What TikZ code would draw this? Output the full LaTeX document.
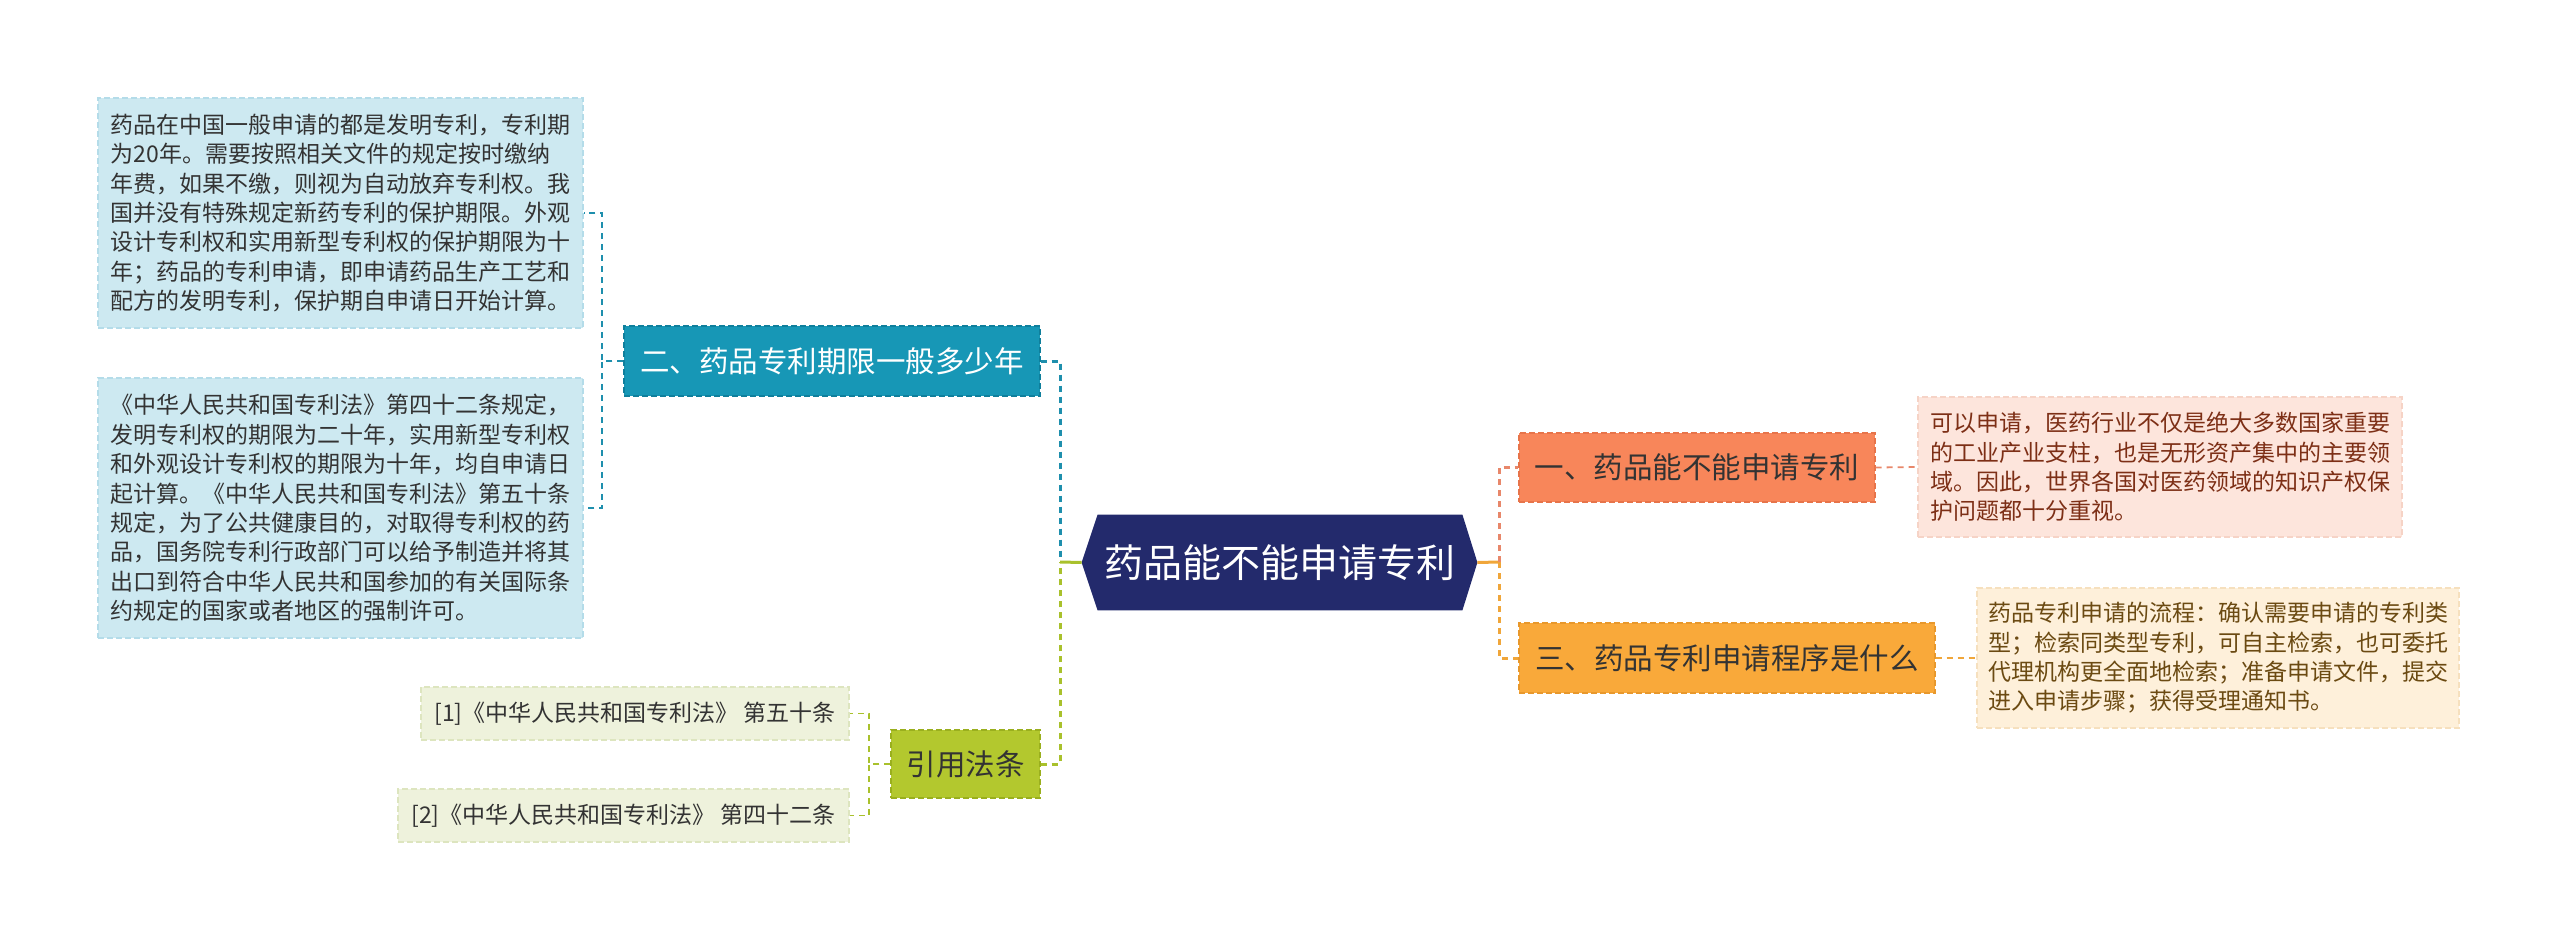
\documentclass[tikz,border=0pt]{standalone}
\usepackage{fontspec}
\setmainfont{Noto Sans CJK SC}
\usetikzlibrary{calc,backgrounds}
\definecolor{hexc}{HTML}{232A6C}
\definecolor{tealf}{HTML}{1797B6}
\definecolor{teald}{HTML}{0F7F9C}
\definecolor{tealline}{HTML}{1E8FAD}
\definecolor{bluef}{HTML}{CDE9F1}
\definecolor{blued}{HTML}{B4DCE9}
\definecolor{limef}{HTML}{B3C82E}
\definecolor{limed}{HTML}{9AAF1E}
\definecolor{limeline}{HTML}{A9C12C}
\definecolor{reff}{HTML}{EEF2DC}
\definecolor{refd}{HTML}{DDE5BF}
\definecolor{coralf}{HTML}{F8865A}
\definecolor{corald}{HTML}{E7744A}
\definecolor{coralline}{HTML}{E8876A}
\definecolor{ambf}{HTML}{F9A93A}
\definecolor{ambd}{HTML}{E8982C}
\definecolor{ambline}{HTML}{F0A63A}
\definecolor{pinkf}{HTML}{FDE5DC}
\definecolor{pinkd}{HTML}{F6D3C6}
\definecolor{pinkt}{HTML}{7D2F16}
\definecolor{creamf}{HTML}{FEF0DA}
\definecolor{creamd}{HTML}{F6E0BE}
\definecolor{creamt}{HTML}{6B4A12}
\definecolor{darkt}{HTML}{333333}
\begin{document}
\begin{tikzpicture}[x=0.5pt,y=-0.5pt,
  detail/.style={inner sep=0pt, align=left, text=darkt,
    font=\fontsize{11.5}{14.7}\selectfont,
    dash pattern=on 3pt off 1.5pt, line width=0.6pt},
  topic/.style={inner sep=0pt, text=darkt,
    font=\fontsize{14.75}{17}\selectfont,
    dash pattern=on 3pt off 1.5pt, line width=0.7pt},
  mainlink/.style={line width=1.5pt, dash pattern=on 3pt off 2.5pt},
  sublink/.style={line width=0.9pt, dash pattern=on 3pt off 2.5pt}]
\useasboundingbox (0,0) rectangle (2560,941);

% root
\node[inner sep=0pt, minimum width=182pt, minimum height=47.5pt, text=white,
  font=\fontsize{19.5}{22}\selectfont] (root) at (1280,562.5) {药品能不能申请专利};
\coordinate (rootW) at ($(root.west)+(-16,0)$);
\coordinate (rootE) at ($(root.east)+(15,0)$);
\begin{scope}[on background layer]
\fill[hexc] (root.north west) -- (root.north east) -- (rootE) -- (root.south east)
  -- (root.south west) -- (rootW) -- cycle;
\end{scope}

% left: topic 2
\node[topic, fill=tealf, draw=teald, text=white, minimum width=208pt, minimum height=35pt]
  (t2) at (832,361) {二、药品专利期限一般多少年};
\node[detail, fill=bluef, draw=blued, minimum width=242.5pt, minimum height=115pt]
  (d2a) at (340.5,213) {药品在中国一般申请的都是发明专利，专利期\\为20年。需要按照相关文件的规定按时缴纳\\年费，如果不缴，则视为自动放弃专利权。我\\国并没有特殊规定新药专利的保护期限。外观\\设计专利权和实用新型专利权的保护期限为十\\年；药品的专利申请，即申请药品生产工艺和\\配方的发明专利，保护期自申请日开始计算。};
\node[detail, fill=bluef, draw=blued, minimum width=242.5pt, minimum height=130pt]
  (d2b) at (340.5,508) {《中华人民共和国专利法》第四十二条规定，\\发明专利权的期限为二十年，实用新型专利权\\和外观设计专利权的期限为十年，均自申请日\\起计算。《中华人民共和国专利法》第五十条\\规定，为了公共健康目的，对取得专利权的药\\品，国务院专利行政部门可以给予制造并将其\\出口到符合中华人民共和国参加的有关国际条\\约规定的国家或者地区的强制许可。};

% left: topic 4
\node[topic, fill=limef, draw=limed, minimum width=74.5pt, minimum height=34pt]
  (t4) at (965.5,764) {引用法条};
\node[detail, fill=reff, draw=refd, minimum width=214pt, minimum height=26.5pt]
  (r1) at (635,713.5) {[1]《中华人民共和国专利法》 第五十条};
\node[detail, fill=reff, draw=refd, minimum width=225.5pt, minimum height=26.5pt]
  (r2) at (623.5,815.5) {[2]《中华人民共和国专利法》 第四十二条};

% right: topics 1 and 3
\node[topic, fill=coralf, draw=corald, minimum width=178pt, minimum height=34.5pt]
  (t1) at (1697,467.5) {一、药品能不能申请专利};
\node[topic, fill=ambf, draw=ambd, minimum width=208pt, minimum height=35pt]
  (t3) at (1727,658) {三、药品专利申请程序是什么};
\node[detail, fill=pinkf, draw=pinkd, text=pinkt, minimum width=242pt, minimum height=70pt]
  (d1) at (2160,467) {可以申请，医药行业不仅是绝大多数国家重要\\的工业产业支柱，也是无形资产集中的主要领\\域。因此，世界各国对医药领域的知识产权保\\护问题都十分重视。};
\node[detail, fill=creamf, draw=creamd, text=creamt, minimum width=241pt, minimum height=70pt]
  (d3) at (2218,658) {药品专利申请的流程：确认需要申请的专利类\\型；检索同类型专利，可自主检索，也可委托\\代理机构更全面地检索；准备申请文件，提交\\进入申请步骤；获得受理通知书。};

% junctions
\coordinate (jl) at (1060,562);
\coordinate (jr) at (1499,562);

% connectors
\draw[mainlink, tealline] (t2.east) -| (jl);
\draw[mainlink, limeline] (t4.east) -| (jl);
\draw[line width=1.5pt, limeline] (jl) -- (rootW);
\draw[line width=1.5pt, ambline] (rootE) -- (jr);
\draw[mainlink, coralline] (jr) |- (t1.west);
\draw[mainlink, ambline] (jr) |- (t3.west);

\draw[sublink, tealline] (t2.west) -- ++(-21,0) |- (d2a.east);
\draw[sublink, tealline] (t2.west) -- ++(-21,0) |- (d2b.east);
\draw[sublink, limeline] (t4.west) -- ++(-21,0) |- (r1.east);
\draw[sublink, limeline] (t4.west) -- ++(-21,0) |- (r2.east);
\draw[sublink, coralline] (t1.east) -- (d1.west);
\draw[sublink, ambline] (t3.east) -- (d3.west);
\end{tikzpicture}
\end{document}
